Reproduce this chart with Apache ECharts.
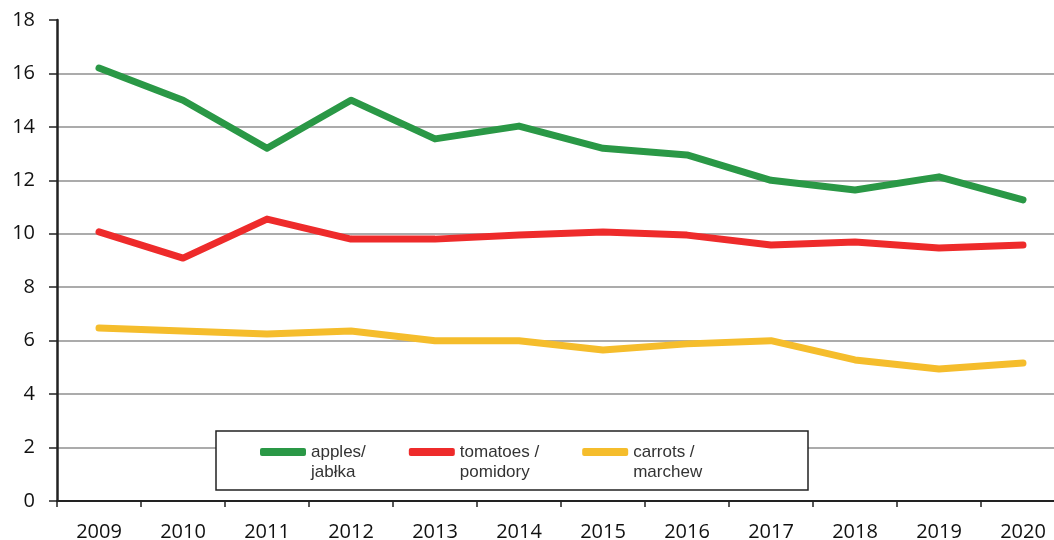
<!DOCTYPE html>
<html>
<head>
<meta charset="utf-8">
<script src="https://cdn.jsdelivr.net/npm/echarts@6/dist/echarts.min.js"></script>
<style>
  html, body { margin: 0; padding: 0; background: #fff; }
  #chart { width: 1054px; height: 540px; }
</style>
</head>
<body>
<div id="chart"></div>
<script>
  // years on the x axis
  const years = ['2009', '2010', '2011', '2012', '2013', '2014', '2015', '2016', '2017', '2018', '2019', '2020']

  // values
  const apples = [16.2, 15.0, 13.2, 15.0, 13.55, 14.03, 13.2, 12.95, 12.0, 11.64, 12.13, 11.27]
  const tomatoes = [10.07, 9.09, 10.55, 9.8, 9.8, 9.95, 10.07, 9.95, 9.58, 9.69, 9.47, 9.58]
  const carrots = [6.47, 6.36, 6.25, 6.36, 6.0, 6.0, 5.65, 5.88, 6.0, 5.28, 4.94, 5.16]

  const seriesNames = ['apples/\njabłka', 'tomatoes /\npomidory', 'carrots /\nmarchew']
  const colors = ['#2a9846', '#ee2b2b', '#f5bd2c']

  const chart = echarts.init(document.getElementById('chart'))

  const lineSeries = (name, data, color) => ({
    name: name,
    type: 'line',
    data: data,
    symbol: 'none',
    smooth: false,
    lineStyle: { color: color, width: 7, cap: 'round', join: 'round' },
    itemStyle: { color: color },
  })

  chart.setOption({
    animation: false,
    backgroundColor: '#fff',
    // plot runs a bit past the right edge, like the source picture
    grid: { left: 57, top: 20, bottom: 39, width: 1008, outerBoundsMode: 'none' },
    // legend frame, white so it hides the gridline behind it
    graphic: [{
      type: 'rect',
      z: 10,
      shape: { x: 216, y: 431, width: 592, height: 59 },
      style: { fill: '#fff', stroke: '#222', lineWidth: 1.5 },
    }],
    legend: {
      z: 20,
      left: 260,
      top: 422,
      orient: 'horizontal',
      padding: 0,
      itemGap: 43,
      itemWidth: 46,
      itemHeight: 8,
      icon: 'roundRect',
      // blank first line so the icon sits next to the first text line
      formatter: name => '\u00a0\n' + name,
      textStyle: {
        fontFamily: 'Liberation Sans',
        fontSize: 17,
        color: '#333',
        lineHeight: 20,
      },
      data: seriesNames,
    },
    xAxis: {
      type: 'category',
      data: years,
      boundaryGap: true,
      axisLine: { lineStyle: { color: '#222', width: 2 } },
      axisTick: { show: true, length: 6, lineStyle: { color: '#222', width: 1.5 } },
      axisLabel: { fontFamily: 'Open Sans', fontSize: 20, color: '#111', margin: 21 },
    },
    yAxis: {
      type: 'value',
      min: 0,
      max: 18,
      interval: 2,
      axisLine: { show: true, lineStyle: { color: '#222', width: 2.5 } },
      axisTick: { show: true, length: 8, lineStyle: { color: '#222', width: 1.5 } },
      axisLabel: { fontFamily: 'Open Sans', fontSize: 20, color: '#111', margin: 22 },
      splitLine: { show: true, showMaxLine: false, lineStyle: { color: '#8f8f8f', width: 1.5 } },
    },
    series: [
      lineSeries(seriesNames[0], apples, colors[0]),
      lineSeries(seriesNames[1], tomatoes, colors[1]),
      lineSeries(seriesNames[2], carrots, colors[2]),
    ],
  })
</script>
</body>
</html>
